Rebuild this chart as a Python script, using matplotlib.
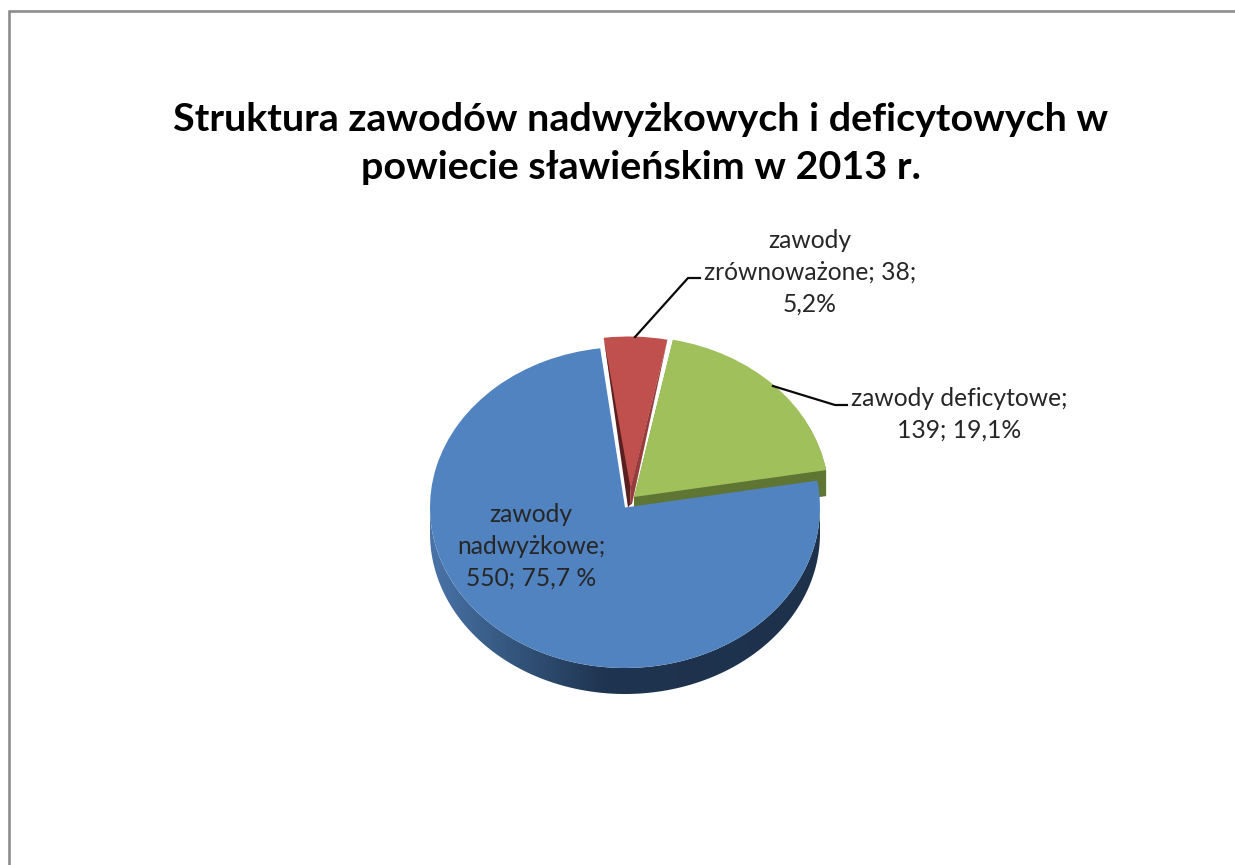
import numpy as np
import matplotlib
matplotlib.use("Agg")
import matplotlib.pyplot as plt
from matplotlib.patches import Wedge, Polygon
from matplotlib.lines import Line2D
from matplotlib.colors import LinearSegmentedColormap

# ---- data ----
categories = ["zawody zrównoważone", "zawody deficytowe", "zawody nadwyżkowe"]
values = [38, 139, 550]
label_texts = ["zawody\nzrównoważone; 38;\n5,2%",
               "zawody deficytowe;\n139; 19,1%",
               "zawody\nnadwyżkowe;\n550; 75,7 %"]
title_text = "Struktura zawodów nadwyżkowych i deficytowych w\npowiecie sławieńskim w 2013 r."

# ---- style ----
W, H = 1235, 865
top_colors = ["#c0504d", "#a0c05c", "#5083c0"]
wall_colors = ["#963d3b", "#5f7533", "#1f3450"]
RX, RY, DEPTH = 195.0, 160.5, 26.0
CX, CY = 624.5, 507.5                      # pixel position of the pie origin
slice_px = [(628.5, 497.0), (634.0, 497.0), (625.0, 507.5)]
START = 97.3

fig = plt.figure(figsize=(W / 100, H / 100), dpi=100, facecolor="white")
ax = fig.add_axes([0, 0, 1, 1])


def ux(px):
    return (px - CX) / RX


def uy(py):
    return (CY - py) / RY


def fx(px):
    return px / W


def fy(py):
    return 1 - py / H


wedges, _ = ax.pie(values, colors=top_colors, startangle=START, counterclock=False,
                   radius=1, wedgeprops=dict(linewidth=0))
red, green, blue = wedges
for w, (px, py) in zip(wedges, slice_px):
    w.set_center((ux(px), uy(py)))
red.set_zorder(6)
green.set_zorder(4)
blue.set_zorder(8)

# green wall
for d in np.arange(1, DEPTH + 1):
    ax.add_patch(Wedge((ux(slice_px[1][0]), uy(slice_px[1][1] + d)), 1, green.theta1, green.theta2,
                       facecolor=wall_colors[1], linewidth=0, zorder=3))


def rim(w, ang):
    a = np.deg2rad(ang)
    c = w.center
    return c[0] + np.cos(a), c[1] + np.sin(a)


# red inner walls
app = (ux(628.0), uy(507.5))
inner = (ux(630.5), uy(488.0))
ax.add_patch(Polygon([rim(red, red.theta2), inner, (ux(630), uy(505)), app], closed=True,
                     facecolor="#5a1f1f", linewidth=0, zorder=7))
ax.add_patch(Polygon([rim(red, red.theta1), (ux(632), uy(504)), (ux(630), uy(505)), inner], closed=True,
                     facecolor=wall_colors[0], linewidth=0, zorder=7))

# blue wall with horizontal gradient
th = np.deg2rad(np.linspace(180, 360, 200))
bc = blue.center
dd = DEPTH / RY
upper = np.c_[bc[0] + np.cos(th), bc[1] + np.sin(th)]
lower = upper[::-1] - [0, dd]
wall_poly = Polygon(np.r_[upper, lower], closed=True, transform=ax.transData, facecolor="none", linewidth=0)
ax.add_patch(wall_poly)
cmap = LinearSegmentedColormap.from_list("wall", [(0, "#4a73a8"), (0.2, "#35577f"), (0.45, "#1f3450"),
                                                  (1, "#1d314b")])
img = ax.imshow(np.linspace(0, 1, 256)[None, :], extent=(bc[0] - 1, bc[0] + 1, bc[1] - 1.4, bc[1] + 0.2),
                aspect="auto", cmap=cmap, zorder=2, interpolation="bilinear")
img.set_clip_path(wall_poly)

ax.set_aspect("auto")
ax.set_xlim(ux(0), ux(W))
ax.set_ylim(uy(H), uy(0))
ax.axis("off")

# frame
border = "#8c8c8c"
fig.add_artist(Line2D([fx(9.2), fx(9.2), fx(W)], [fy(H), fy(11.3), fy(11.3)], color=border, lw=1.9,
                      solid_joinstyle="miter"))

# leaders
for xs, ys in [([635, 688, 700], [337, 278, 278]), ([773, 835, 847], [386, 405, 405])]:
    fig.add_artist(Line2D([fx(x) for x in xs], [fy(y) for y in ys], color="#0a0a0a", lw=1.6, zorder=9))

# texts
fig.text(fx(641), fy(143.5), title_text, ha="center", va="center", family="Lato", weight="bold",
         fontsize=28.4, linespacing=1.43, color="black")
label_pos = [(810, 272.5), (959, 414), (531, 546)]
for t, (x, y) in zip(label_texts, label_pos):
    fig.text(fx(x), fy(y), t, ha="center", va="center", family="Lato", fontsize=17.7, linespacing=1.47,
             color="#262626", zorder=10)

fig.savefig("out.png", dpi=100)
